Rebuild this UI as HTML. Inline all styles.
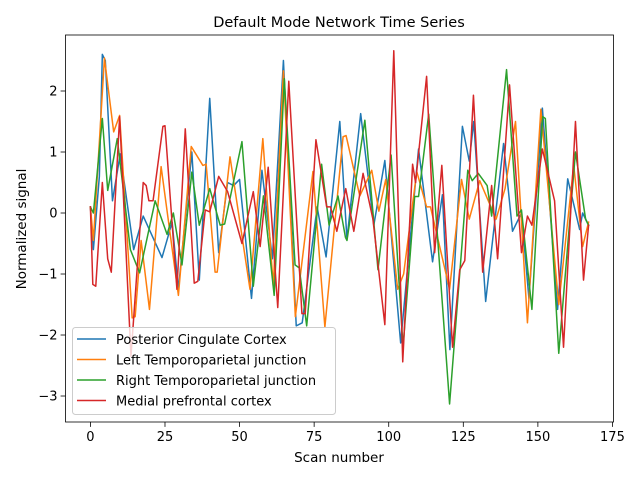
<!DOCTYPE html>
<html><head><meta charset="utf-8"><style>
html,body{margin:0;padding:0;background:#fff;}
svg text{font-family:"DejaVu Sans","Liberation Sans",sans-serif;fill:#000;}
</style></head><body>
<svg id="chart" width="640" height="480" viewBox="0 0 640 480" xmlns="http://www.w3.org/2000/svg">
<rect x="0" y="0" width="640" height="480" fill="#fff"/>
<text x="339" y="27" font-size="14.5" text-anchor="middle">Default Mode Network Time Series</text>
<text x="339" y="462" font-size="13.5" text-anchor="middle">Scan number</text>
<text transform="translate(26,229) rotate(-90)" font-size="13.5" text-anchor="middle">Normalized signal</text>
<g id="plot"></g>
<g id="axes"></g>
<g id="legend"></g>
</svg>
<script>
const xTicks = [0,25,50,75,100,125,150,175];
const yTicks = [-3,-2,-1,0,1,2];
const seriesNames = ["Posterior Cingulate Cortex","Left Temporoparietal junction","Right Temporoparietal junction","Medial prefrontal cortex"];
const seriesColors = ["#1f77b4","#ff7f0e","#2ca02c","#d62728"];

const pccX = [0,1,3,4,5,7.4,10,14.5,17.7,24,27.4,29.5,34,36.5,40,43,46,48,50,54,57.5,61,64.7,69,71,76,79,83.6,86,90.6,95,98.7,104,110,114.7,118,120.5,124.7,127,128.5,132.5,138.5,141.5,144.5,147,151.5,156.6,160,164,165,167];
const pccY = [0.1,-0.6,0.6,2.6,2.5,0.2,0.97,-0.6,-0.05,-0.73,-0.15,-1.25,1.0,-1.1,1.88,-0.65,0.5,0.45,0.55,-1.4,0.7,-0.75,2.5,-1.85,-1.8,0.1,-0.72,1.5,-0.43,1.63,-0.2,0.86,-2.13,1.05,-0.8,0.3,-2.24,1.42,0.85,1.5,-1.45,1.14,-0.3,0,-1.4,1.72,-1.58,0.56,-0.27,0,-0.2];

const ltpjX = [0,1,4.7,7.8,9.8,14,15,17,19.8,23.7,29.5,33.8,37.7,38.8,41.8,42.5,46.8,53.5,57.8,61.3,64.7,68.7,74.6,78.6,84.7,85.7,90.3,94.3,96.7,99,103,105,109.4,112.7,114,120.4,124.4,127,130.5,136,139,142.5,146.5,151,157,162,165,167];
const ltpjY = [0.1,-0.45,2.54,1.33,1.6,-1.72,-1.7,-0.45,-1.58,0.76,-1.35,1.09,0.78,0.8,-0.97,-0.97,0.92,-1.25,1.22,-1.2,2.33,-1.7,0.68,-1.87,1.25,1.27,0.28,0.7,0.03,0.55,-1.25,-1.0,0.68,0.1,0.1,-1.25,0.55,-0.1,0.53,-0.1,0.4,1.5,-1.8,1.7,-1.5,0.78,-0.55,-0.15];

const rtpjX = [0,1,4,5.8,9,13.4,16.5,21.7,25.7,27.8,30.7,34,36.5,40,43.5,45,50.8,54.6,58,61.6,65,68.6,70,72.5,77.5,80,83,85.5,86,92,96.4,100.8,104.8,108.7,110,113.4,120.4,126.5,128,130,133,134.5,139.5,143,144.5,148,151.6,152.5,157,162.6,166,167];
const rtpjY = [0.1,0.0,1.55,0.37,1.22,-0.6,-0.98,0.2,-0.35,0.0,-0.85,0.67,-0.2,0.4,-0.2,-0.18,1.17,-1.2,0.28,-1.35,2.2,-0.85,-0.9,-1.85,0.8,-0.2,0.28,-0.4,-0.45,1.52,-0.93,0.95,-2.2,0.27,0.27,1.62,-3.13,0.7,0.53,0.65,0.45,-0.05,2.35,-0.05,0.05,-1.58,1.58,1.55,-2.3,1.0,-0.1,-0.2];

const mpfcX = [0,0.8,1.8,4,5.8,7,9.8,13.6,17.7,18.7,19.6,21,24.3,25,29,31.8,34.8,36,38.5,40,43,46,50.8,54.6,56.9,59.6,62.8,66.5,70.9,72,75.6,79.2,80.5,82.6,85.6,88.3,91.4,94.7,98.7,101.7,104.7,108,109,112.7,115.4,117.8,121.4,123.8,125.5,128.4,131.5,134.5,136.5,140.5,144.5,146.5,148,151.5,155.6,158.6,162.6,165.3,167];
const mpfcY = [0.1,-1.17,-1.2,0.5,-0.75,-0.97,1.58,-2.35,0.5,0.45,0.2,0.2,1.42,1.43,-1.25,1.38,-1.15,-1.12,0.05,0.02,0.6,0.35,-0.5,0.35,-0.55,0.75,-1.55,2.16,-1.65,-1.65,1.2,0.1,0.1,-0.3,0.4,-0.3,0.65,-0.1,-1.83,2.66,-2.44,0.8,0.5,2.24,-0.65,0.78,-2.2,-0.93,-0.78,1.93,-0.97,0.45,-0.75,2.1,-0.65,-0.05,-0.2,1.05,0.2,-2.2,1.5,-1.1,-0.2];

const L=65.5,R=613.5,T=35,B=422;
const xMin=-8.35,xMax=175.35,yMin=-3.426,yMax=2.918;
function sx(v){return L+(v-xMin)/(xMax-xMin)*(R-L);}
function sy(v){return B-(v-yMin)/(yMax-yMin)*(B-T);}
const NS="http://www.w3.org/2000/svg";
function mk(tag,attrs,parent){const e=document.createElementNS(NS,tag);for(const k in attrs)e.setAttribute(k,attrs[k]);parent.appendChild(e);return e;}

const plot=document.getElementById('plot');
const axes=document.getElementById('axes');
const legend=document.getElementById('legend');

const allX=[pccX,ltpjX,rtpjX,mpfcX], allY=[pccY,ltpjY,rtpjY,mpfcY];
const keys=["pcc","ltpj","rtpj","mpfc"];
for(let s=0;s<4;s++){
  const d=allX[s].map((x,i)=>(i?"L":"M")+sx(x).toFixed(2)+" "+sy(allY[s][i]).toFixed(2)).join(" ");
  const p=mk('path',{d:d,fill:"none",stroke:seriesColors[s],"stroke-width":"1.5","stroke-linejoin":"round","stroke-linecap":"square"},plot);
  
  
}

const frame=mk('rect',{x:L,y:T,width:R-L,height:B-T,fill:"none",stroke:"#000","stroke-width":"0.8"},axes);


xTicks.forEach(t=>{
  const x=sx(t);
  const tk=mk('line',{x1:x,x2:x,y1:B,y2:B+4.9,stroke:"#000","stroke-width":"0.8"},axes);
  
  
  const lb=mk('text',{x:x,y:B+19,"font-size":"13","text-anchor":"middle"},axes);
  lb.textContent=String(t);
  
  
});
yTicks.forEach(t=>{
  const y=sy(t);
  const tk=mk('line',{x1:L-4.9,x2:L,y1:y,y2:y,stroke:"#000","stroke-width":"0.8"},axes);
  
  
  const lb=mk('text',{x:L-8,y:y+4.7,"font-size":"13","text-anchor":"end"},axes);
  lb.textContent=(t<0?"\u2212"+Math.abs(t):String(t));
  
  
});

const box=mk('rect',{x:72.5,y:327.5,width:263,height:87,rx:3,fill:"#fff","fill-opacity":"0.8",stroke:"#ccc","stroke-width":"1"},legend);


for(let s=0;s<4;s++){
  const y=339+s*20.5;
  const ln=mk('line',{x1:77,x2:106,y1:y,y2:y,stroke:seriesColors[s],"stroke-width":"1.5"},legend);
  
  
  const tx=mk('text',{x:116,y:y+5,"font-size":"13"},legend);
  tx.textContent=seriesNames[s];
  
  
}
</script>
</body></html>
